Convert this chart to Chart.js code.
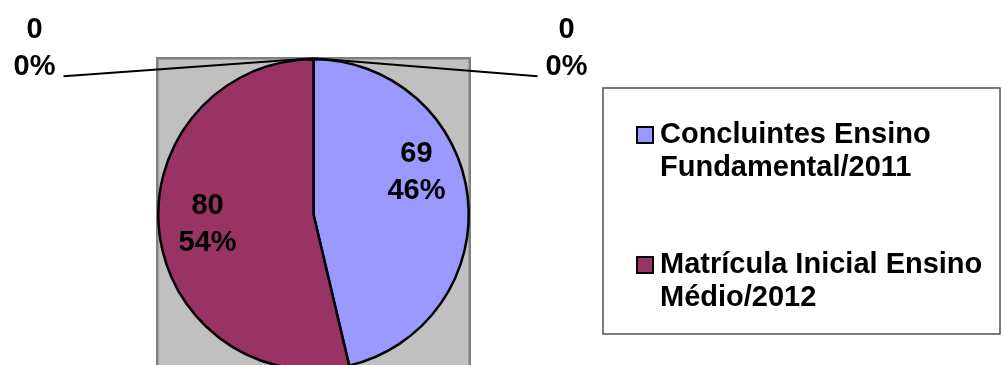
<!DOCTYPE html>
<html>
<head>
<meta charset="utf-8">
<script src="https://cdn.jsdelivr.net/npm/chart.js@4.4.0/dist/chart.umd.min.js"></script>
<style>
  html, body { margin: 0; padding: 0; background: #fff; overflow: hidden; }
  #wrap { width: 1003px; height: 365px; overflow: hidden; }
</style>
</head>
<body>
<div id="wrap"><canvas id="pie" width="1003" height="372"></canvas></div>
<script>
// --- Dados ---
const categories = ['Concluintes Ensino Fundamental/2011', 'Matrícula Inicial Ensino Médio/2012', '', ''];
const values = [69, 80, 0, 0];
const sliceColors = ['#9999FF', '#993366', '#FFFFCC', '#CCFFFF'];

const FONT = 'bold 29px "Liberation Sans", Arial, sans-serif';

// quebra o texto em linhas que cabem na largura
function wrapText(ctx, text, maxWidth) {
    const words = text.split(' ');
    const lines = [];
    let line = '';
    words.forEach(w => {
        const test = line ? line + ' ' + w : w;
        if (line && ctx.measureText(test).width > maxWidth) {
            lines.push(line);
            line = w;
        } else {
            line = test;
        }
    });
    if (line) lines.push(line);
    return lines;
}

// fundo cinza quadrado atrás da pizza
const plotBackground = {
    id: 'plotBackground',
    beforeDatasetsDraw(chart) {
        const arc = chart.getDatasetMeta(0).data[0];
        const r = arc.outerRadius + 1;
        const ctx = chart.ctx;
        ctx.save();
        ctx.fillStyle = '#C0C0C0';
        ctx.fillRect(arc.x - r, arc.y - r, 2 * r, 2 * r);
        ctx.strokeStyle = '#808080';
        ctx.lineWidth = 2.5;
        ctx.strokeRect(arc.x - r, arc.y - r, 2 * r, 2 * r);
        ctx.restore();
    }
};

// rótulos: valor + percentual
const sliceLabels = {
    id: 'sliceLabels',
    afterDatasetsDraw(chart, args, opts) {
        const ctx = chart.ctx;
        const data = chart.data.datasets[0].data;
        const total = data.reduce((a, b) => a + b, 0);
        const arcs = chart.getDatasetMeta(0).data;
        ctx.save();
        ctx.font = FONT;
        ctx.fillStyle = '#000';
        ctx.textAlign = 'center';
        ctx.textBaseline = 'middle';
        let z = 0;
        arcs.forEach((arc, i) => {
            const lines = [String(data[i]), Math.round(data[i] / total * 100) + '%'];
            let x, y;
            if (data[i] > 0) {
                const mid = (arc.startAngle + arc.endAngle) / 2;
                const d = arc.outerRadius * opts.radius;
                const n = opts.nudge[i] || [0, 0];
                x = arc.x + Math.cos(mid) * d + n[0];
                y = arc.y + Math.sin(mid) * d + n[1];
            } else {
                // fatias zeradas: linha de chamada até o rótulo
                const leader = opts.leaders[z++];
                const px = arc.x + Math.cos(arc.startAngle) * (arc.outerRadius + 1);
                const py = arc.y + Math.sin(arc.startAngle) * (arc.outerRadius + 1);
                const ex = px + leader.dx;
                const ey = py + leader.dy;
                ctx.beginPath();
                ctx.moveTo(px, py);
                ctx.lineTo(ex, ey);
                ctx.lineWidth = 2;
                ctx.strokeStyle = '#000';
                ctx.stroke();
                const half = ctx.measureText(lines[1]).width / 2;
                x = ex + Math.sign(leader.dx) * (half + 8);
                y = ey - 28;
            }
            ctx.fillText(lines[0], x, y - opts.lineHeight / 2);
            ctx.fillText(lines[1], x, y + opts.lineHeight / 2);
        });
        ctx.restore();
    }
};

// legenda com caixa e texto em duas linhas
const boxLegend = {
    id: 'boxLegend',
    afterDraw(chart, args, opts) {
        const ctx = chart.ctx;
        const b = opts.box;
        const colors = chart.data.datasets[0].backgroundColor;
        ctx.save();
        ctx.strokeStyle = '#505050';
        ctx.lineWidth = 1.5;
        ctx.strokeRect(b.x, b.y, b.w, b.h);

        ctx.font = FONT;
        ctx.textAlign = 'left';
        ctx.textBaseline = 'alphabetic';
        let k = 0;
        chart.data.labels.forEach((label, i) => {
            if (!label) return;
            const top = opts.firstY + k * opts.entryGap;
            ctx.fillStyle = colors[i];
            ctx.fillRect(opts.markerX, top, opts.markerSize, opts.markerSize);
            ctx.strokeStyle = '#000';
            ctx.lineWidth = 2;
            ctx.strokeRect(opts.markerX, top, opts.markerSize, opts.markerSize);
            ctx.fillStyle = '#000';
            wrapText(ctx, label, opts.maxWidth).forEach((line, j) => {
                ctx.fillText(line, opts.textX, top + opts.markerSize + j * opts.lineHeight);
            });
            k++;
        });
        ctx.restore();
    }
};

new Chart(document.getElementById('pie'), {
    type: 'pie',
    data: {
        labels: categories,
        datasets: [{
            data: values,
            backgroundColor: sliceColors,
            borderColor: '#000',
            borderWidth: 2.5
        }]
    },
    options: {
        responsive: false,
        animation: false,
        layout: { padding: { top: 58, left: 157, right: 533, bottom: 1 } },
        plugins: {
            legend: { display: false },
            tooltip: { enabled: false },
            sliceLabels: {
                radius: 0.7,
                lineHeight: 37,
                nudge: [[-5, -29], [2, -3]],
                leaders: [{ dx: 224, dy: 18 }, { dx: -250, dy: 18 }]
            },
            boxLegend: {
                box: { x: 603, y: 88, w: 397, h: 246 },
                markerX: 637, markerSize: 16, firstY: 127, entryGap: 130,
                textX: 660, lineHeight: 33, maxWidth: 340
            }
        }
    },
    plugins: [plotBackground, sliceLabels, boxLegend]
});
</script>
</body>
</html>
